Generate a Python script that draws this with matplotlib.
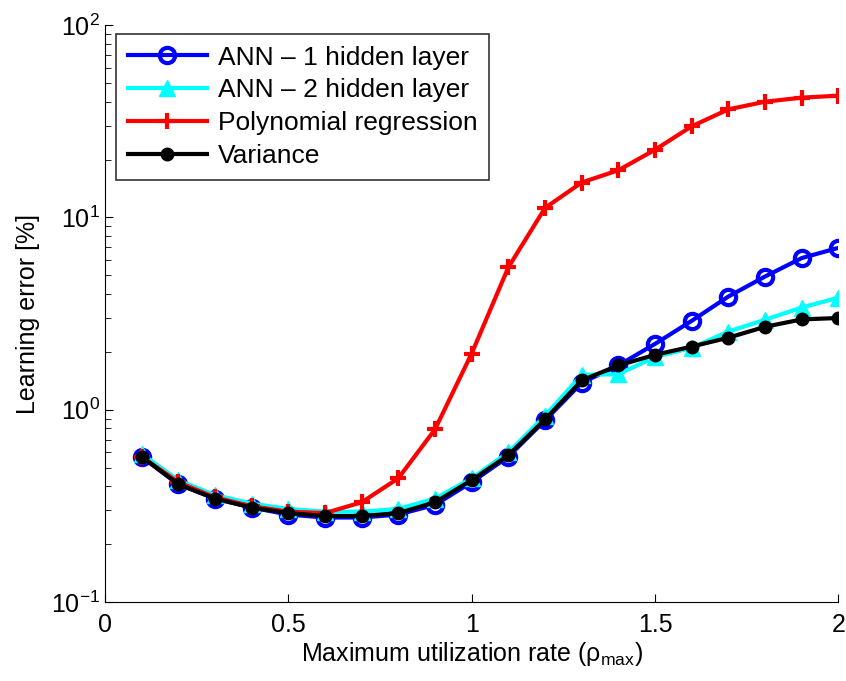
import numpy as np
import matplotlib
matplotlib.use("Agg")
import matplotlib.pyplot as plt

plt.rcParams['font.family'] = ['Liberation Sans', 'DejaVu Sans']
plt.rcParams['mathtext.fontset'] = 'custom'
plt.rcParams['mathtext.rm'] = 'Liberation Sans'
plt.rcParams['mathtext.it'] = 'Liberation Sans'
plt.rcParams['mathtext.default'] = 'regular'

# data
rho = [0.1, 0.2, 0.3, 0.4, 0.5, 0.6, 0.7, 0.8, 0.9, 1.0,
       1.1, 1.2, 1.3, 1.4, 1.5, 1.6, 1.7, 1.8, 1.9, 2.0]
ann1 = [0.57, 0.41, 0.345, 0.31, 0.285, 0.275, 0.275, 0.285, 0.32, 0.42,
        0.57, 0.88, 1.38, 1.7, 2.2, 2.9, 3.88, 4.93, 6.15, 6.95]
ann2 = [0.59, 0.43, 0.36, 0.325, 0.305, 0.295, 0.295, 0.305, 0.345, 0.44,
        0.6, 0.93, 1.52, 1.53, 1.88, 2.1, 2.55, 2.94, 3.4, 3.83]
poly = [0.57, 0.42, 0.35, 0.315, 0.295, 0.29, 0.33, 0.44, 0.79, 1.96,
        5.5, 11.2, 15.2, 17.6, 22.5, 29.8, 36.5, 40.0, 42.0, 43.0]
var = [0.57, 0.41, 0.345, 0.31, 0.29, 0.28, 0.28, 0.29, 0.33, 0.43,
       0.58, 0.89, 1.42, 1.7, 1.93, 2.13, 2.37, 2.7, 2.95, 3.0]

labels = ['ANN \u2013 1 hidden layer', 'ANN \u2013 2 hidden layer',
          'Polynomial regression', 'Variance']

fig = plt.figure(figsize=(8.46, 6.81), dpi=100)
ax = fig.add_axes([0.124, 0.116, 0.867, 0.847])

lw = 3
ax.plot(rho, ann1, color='#0000ff', lw=lw, marker='o', ms=11, mfc='none',
        mew=3, label=labels[0])
ax.plot(rho, ann2, color='#00ffff', lw=lw, marker='^', ms=12, mfc='#00ffff',
        label=labels[1])
ax.plot(rho, poly, color='#ff0000', lw=lw, marker='+', ms=11, mew=3,
        label=labels[2])
ax.plot(rho, var, color='black', lw=lw, marker='o', ms=9, mfc='black',
        label=labels[3])

ax.set_yscale('log')
ax.set_ylim(0.1, 100)
ax.set_xlim(0, 2)
ax.set_xticks([0, 0.5, 1, 1.5, 2])
ax.set_xticklabels(['0', '0.5', '1', '1.5', '2'])

ax.spines['top'].set_visible(False)
ax.spines['right'].set_visible(False)
ax.tick_params(which='both', direction='in', labelsize=18, top=False, right=False)
ax.tick_params(which='major', length=6)
ax.tick_params(which='minor', length=4)
ax.tick_params(axis='x', pad=8)

ax.set_xlabel(r'Maximum utilization rate ($\rho_{max}$)', fontsize=18, labelpad=2)
ax.set_ylabel('Learning error [%]', fontsize=18, labelpad=8)

leg = ax.legend(loc='upper left', bbox_to_anchor=(0.015, 0.985), fontsize=19,
                frameon=True, fancybox=False, edgecolor='black',
                handlelength=3, borderpad=0.45, labelspacing=0.33,
                handletextpad=0.4, borderaxespad=0)
leg.get_frame().set_linewidth(1.2)

fig.savefig('out.png', dpi=100)
